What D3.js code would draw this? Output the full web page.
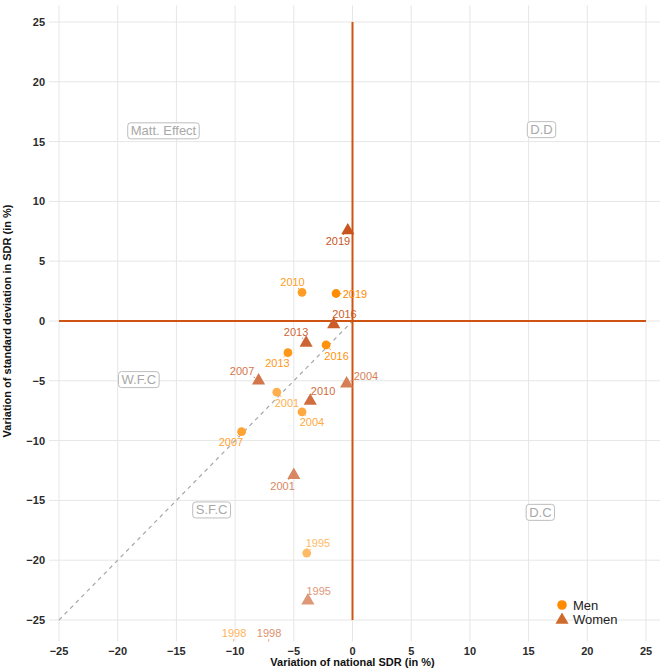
<!DOCTYPE html>
<html>
<head>
<meta charset="utf-8">
<script src="https://cdn.jsdelivr.net/npm/d3@7"></script>
<style>
  html, body { margin: 0; padding: 0; background: #fff; }
  svg { display: block; font-family: "Liberation Sans", Arial, sans-serif; }
  .grid line { stroke: #e6e6e6; stroke-width: 1; }
  .tick-lab { font-size: 11px; font-weight: bold; fill: #2b2b2b; }
  .ax-title { font-size: 11px; font-weight: bold; fill: #111; }
  .yr { font-size: 11px; }
  .quad text { font-size: 13px; fill: #a8a8a8; }
  .quad rect { fill: #fff; stroke: #bdbdbd; stroke-width: 1; }
  .leg text { font-size: 13px; fill: #222; }
</style>
</head>
<body>
<svg id="chart" width="669" height="669"></svg>
<script>
// survey years
const years = [1995, 1998, 2001, 2004, 2007, 2010, 2013, 2016, 2019];
// Men: variation of national SDR / of its standard deviation (%)
const menX = [-3.9, -10.2, -6.45, -4.3, -9.45, -4.3, -5.5, -2.25, -1.4];
const menY = [-19.4, -27.6, -5.95, -7.6, -9.25, 2.4, -2.65, -2.0, 2.3];
// Women
const womenX = [-3.8, -7.2, -5.0, -0.5, -8.0, -3.6, -3.95, -1.6, -0.4];
const womenY = [-23.3, -27.8, -12.8, -5.15, -4.9, -6.6, -1.75, -0.2, 7.65];
// where the repelled year labels ended up
const menLabX = [-2.94, -10.09, -5.58, -3.45, -10.35, -5.11, -6.39, -1.36, 0.21];
const menLabY = [-18.56, -26.09, -6.86, -8.44, -10.12, 3.26, -3.51, -2.93, 2.26];
const womenLabX = [-2.88, -7.11, -5.96, 1.15, -9.41, -2.51, -4.81, -0.68, -1.24];
const womenLabY = [-22.58, -26.09, -13.8, -4.6, -4.18, -5.85, -0.92, 0.59, 6.69];
// quadrant names
const quadNames = ['Matt. Effect', 'D.D', 'W.F.C', 'S.F.C', 'D.C'];
const quadX = [-16.1, 16.1, -18.2, -12.0, 16.0];
const quadY = [15.9, 16.0, -4.9, -15.8, -16.0];
const ticks = [-25, -20, -15, -10, -5, 0, 5, 10, 15, 20, 25];

const svg = d3.select('#chart');
const x = d3.scaleLinear([-25, 25], [59, 646]);
const y = d3.scaleLinear([-25, 25], [620, 22]);
const px0 = x(-25.85), px1 = x(26.2), py0 = y(26.4), py1 = y(-26.8);

const yrAlpha = d3.scaleLinear([1995, 2019], [0.6, 1]);
const base = { Men: '#ff8c00', Women: '#c8541e' };
function col(g, yr) {
  return d3.interpolateRgb('#ffffff', base[g])(yrAlpha(yr));
}

svg.append('defs').append('clipPath').attr('id', 'panel')
  .append('rect').attr('x', px0).attr('y', py0).attr('width', px1 - px0).attr('height', py1 - py0);

// grid
const grid = svg.append('g').attr('class', 'grid');
grid.selectAll('.v').data(ticks).join('line').attr('class', 'v')
  .attr('x1', (d) => x(d)).attr('x2', (d) => x(d)).attr('y1', py0).attr('y2', py1);
grid.selectAll('.h').data(ticks).join('line').attr('class', 'h')
  .attr('y1', (d) => y(d)).attr('y2', (d) => y(d)).attr('x1', px0).attr('x2', px1);

// axes
const fmt = (d) => (d < 0 ? '\u2212' + Math.abs(d) : String(d));
svg.append('g').selectAll('text').data(ticks).join('text').attr('class', 'tick-lab')
  .attr('x', (d) => x(d)).attr('y', py1 + 13).attr('text-anchor', 'middle').text(fmt);
svg.append('g').selectAll('text').data(ticks).join('text').attr('class', 'tick-lab')
  .attr('x', px0 - 4).attr('y', (d) => y(d) + 4).attr('text-anchor', 'end').text(fmt);
svg.append('text').attr('class', 'ax-title').attr('x', x(0)).attr('y', 666)
  .attr('text-anchor', 'middle').text('Variation of national SDR (in %)');
svg.append('text').attr('class', 'ax-title').attr('transform', `translate(11,${y(0)}) rotate(-90)`)
  .attr('text-anchor', 'middle').text('Variation of standard deviation in SDR (in %)');

// diagonal and the two reference lines
svg.append('line').attr('x1', x(-25)).attr('y1', y(-25)).attr('x2', x(0)).attr('y2', y(0))
  .attr('stroke', '#a6a6a6').attr('stroke-width', 1.2).attr('stroke-dasharray', '4,4');
svg.append('line').attr('x1', x(-25)).attr('x2', x(25)).attr('y1', y(0)).attr('y2', y(0))
  .attr('stroke', '#cf5414').attr('stroke-width', 2);
svg.append('line').attr('x1', x(0)).attr('x2', x(0)).attr('y1', y(25)).attr('y2', y(-25))
  .attr('stroke', '#cf5414').attr('stroke-width', 2);

// quadrant boxes
const quad = svg.append('g').attr('class', 'quad');
quadNames.forEach((q, i) => {
  const g = quad.append('g');
  const t = g.append('text').attr('x', x(quadX[i])).attr('y', y(quadY[i]) + 4.5)
    .attr('text-anchor', 'middle').text(q);
  const w = t.node().getComputedTextLength();
  g.insert('rect', 'text').attr('x', x(quadX[i]) - w / 2 - 3).attr('y', y(quadY[i]) - 8)
    .attr('width', w + 6).attr('height', 16).attr('rx', 3);
});

// points + labels
const pts = [];
years.forEach((yr, i) => {
  pts.push({ g: 'Men', yr, x: menX[i], y: menY[i], lx: menLabX[i], ly: menLabY[i] });
  pts.push({ g: 'Women', yr, x: womenX[i], y: womenY[i], lx: womenLabX[i], ly: womenLabY[i] });
});

const segG = svg.append('g').attr('clip-path', 'url(#panel)');
const markG = svg.append('g').attr('clip-path', 'url(#panel)');
const labG = svg.append('g');
const tri = d3.symbol().type(d3.symbolTriangle).size(75);

pts.forEach((d) => {
  const c = col(d.g, d.yr);
  const cx = x(d.x), cy = y(d.y), lx = x(d.lx), ly = y(d.ly);
  const t = labG.append('text').attr('class', 'yr').attr('x', lx).attr('y', ly + 4)
    .attr('text-anchor', 'middle').attr('fill', c).text(d.yr);
  const hw = t.node().getComputedTextLength() / 2 + 1, hh = 6;
  // segment from the point to the label box edge
  const dx = cx - lx, dy = cy - ly;
  const s = Math.min(dx !== 0 ? hw / Math.abs(dx) : Infinity, dy !== 0 ? hh / Math.abs(dy) : Infinity);
  if (s < 1) {
    const ex = lx + dx * s, ey = ly + dy * s;
    const len = Math.hypot(cx - ex, cy - ey);
    const pad = 4;
    if (len > pad + 1.5) {
      segG.append('line').attr('x1', ex).attr('y1', ey)
        .attr('x2', cx - (cx - ex) * pad / len).attr('y2', cy - (cy - ey) * pad / len)
        .attr('stroke', c).attr('stroke-width', 0.8);
    }
  }
  if (d.g === 'Men') {
    markG.append('circle').attr('cx', cx).attr('cy', cy).attr('r', 4.4).attr('fill', c);
  } else {
    markG.append('path').attr('d', tri).attr('transform', `translate(${cx},${cy + 1})`).attr('fill', c);
  }
});

// legend
const leg = svg.append('g').attr('class', 'leg');
leg.append('circle').attr('cx', 562).attr('cy', 605).attr('r', 4.8).attr('fill', base.Men);
leg.append('path').attr('d', tri).attr('transform', 'translate(562,620)').attr('fill', '#cd6a2c');
leg.append('text').attr('x', 573).attr('y', 610).text('Men');
leg.append('text').attr('x', 573).attr('y', 624).text('Women');
</script>
</body>
</html>
